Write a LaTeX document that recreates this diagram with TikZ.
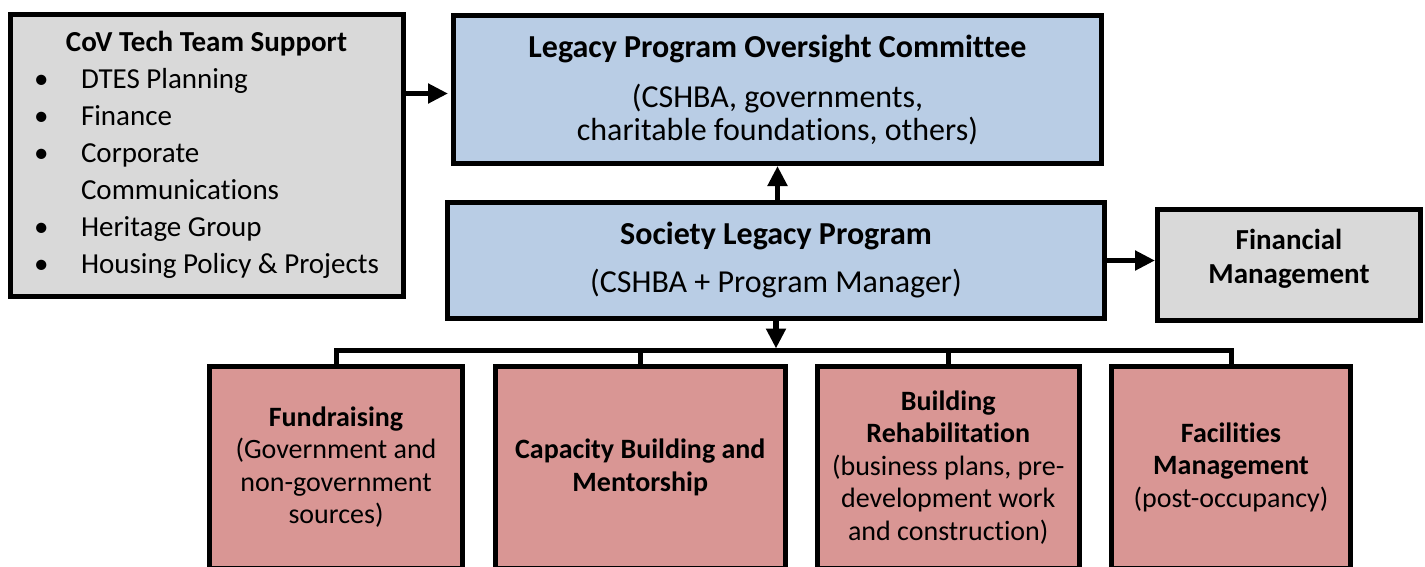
\documentclass[tikz,border=0pt]{standalone}
\usepackage{fontspec}
\setmainfont{Carlito}[Ligatures=NoCommon]
\usetikzlibrary{arrows.meta,calc}
\definecolor{grayfill}{HTML}{D9D9D9}
\definecolor{bluefill}{HTML}{B9CDE5}
\definecolor{pinkfill}{HTML}{D99694}
\begin{document}
\begin{tikzpicture}[x=1pt,y=-1pt,
  box/.style={draw=black, line width=5pt, rectangle, inner sep=0pt, align=center},
  graybox/.style={box, fill=grayfill},
  bluebox/.style={box, fill=bluefill, font=\fontsize{32}{33}\selectfont},
  pinkbox/.style={box, fill=pinkfill, minimum height=201.5pt, font=\fontsize{28}{32.5}\selectfont},
  conn/.style={draw=black, line width=5pt, line join=miter},
  arr/.style={draw=black, line width=5.5pt, -{Triangle[length=20pt,width=19pt]}}]
\useasboundingbox (0,0) rectangle (1425,566);
\clip (0,0) rectangle (1425,566);
% boxes
\node[graybox, minimum width=393pt, minimum height=282.5pt] (cov) at (206.5,155.25)
  {\fontsize{29}{37}\selectfont
   \begin{tabular}{@{}p{47pt}@{}l@{}}
   \multicolumn{2}{c}{\textbf{CoV Tech Team Support}}\\
   \textbullet & DTES Planning\\
   \textbullet & Finance\\
   \textbullet & Corporate\\
               & Communications\\
   \textbullet & Heritage Group\\
   \textbullet & Housing Policy \& Projects
   \end{tabular}};
\node[bluebox, minimum width=648pt, minimum height=148pt] (over) at (777.5,89.5)
  {\textbf{Legacy Program Oversight Committee}\\[17pt](CSHBA, governments,\\charitable foundations, others)};
\node[bluebox, minimum width=657pt, minimum height=116pt] (soc) at (776,260.5)
  {\textbf{Society Legacy Program}\\[15pt](CSHBA + Program Manager)};
\node[graybox, minimum width=263pt, minimum height=111pt, text depth=17pt, font=\fontsize{29}{34}\selectfont\bfseries] (fin) at (1289,264.5)
  {Financial\\Management};
\node[pinkbox, minimum width=253pt] (fund) at (336,467.25)
  {\textbf{Fundraising}\\(Government and\\non-government\\sources)};
\node[pinkbox, minimum width=290.5pt] (cap) at (640.25,467.25)
  {\textbf{Capacity Building and}\\\textbf{Mentorship}};
\node[pinkbox, minimum width=261.5pt] (build) at (948.25,467.25)
  {\textbf{Building}\\\textbf{Rehabilitation}\\(business plans, pre-\\development work\\and construction)};
\node[pinkbox, minimum width=239pt] (fac) at (1231,467.25)
  {\textbf{Facilities}\\\textbf{Management}\\(post-occupancy)};
% connectors
\coordinate (bus) at (776,350.5);
\coordinate (ain) at ([yshift=-4pt]over.west);
\draw[conn] (fund.north) -- (fund.north |- bus) -- (fac.north |- bus) -- (fac.north);
\draw[conn] (cap.north) -- (cap.north |- bus);
\draw[conn] (build.north) -- (build.north |- bus);
\draw[arr, shorten >=2pt] (soc.south) -- (bus);
\draw[arr] (soc.north -| over.south) -- (over.south);
\draw[arr, shorten >=3pt] (cov.east |- ain) -- (ain);
\draw[arr] (soc.east) -- (soc.east -| fin.west);
\end{tikzpicture}
\end{document}
